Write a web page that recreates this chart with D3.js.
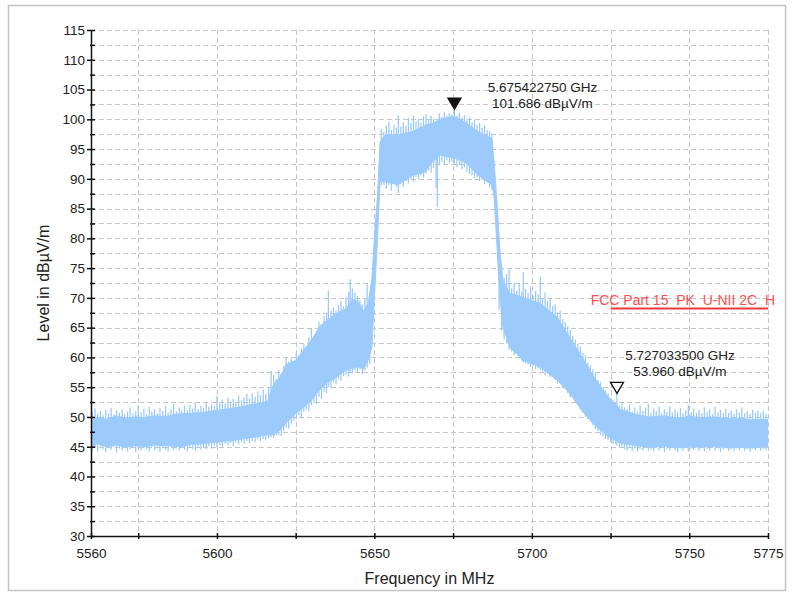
<!DOCTYPE html>
<html><head><meta charset="utf-8">
<script src="https://cdn.jsdelivr.net/npm/d3@7"></script>
<style>
html,body{margin:0;padding:0;background:#fff;}
svg{display:block;font-family:"Liberation Sans",Arial,sans-serif;}
</style></head>
<body><svg id="c" width="793" height="593"></svg>
<script>
// ---- data ----
const yMajorTicks = [30,35,40,45,50,55,60,65,70,75,80,85,90,95,100,105,110,115];
const yMinorTicks = [32.5,37.5,42.5,47.5,52.5,57.5,62.5,67.5,72.5,77.5,82.5,87.5,92.5,97.5,102.5,107.5,112.5];
const xMajorTicks = [5560,5600,5650,5700,5750,5775];
const xMinorTicks = [5575,5625,5675,5725];
const xGrid = [5575,5600,5625,5650,5675,5700,5725,5750,5775];

// dense body of the trace (MHz, upper dBµV/m, lower dBµV/m)
const bandFreq = [5560,5562,5565,5568,5571,5574,5577,5580,5584,5588,5592,5596,5600,5604,5608,5612,5616,5618,5620,5622,5625,5627.5,5630,5632.5,5635,5638,5641,5643,5645,5646.5,5648,5649.2,5650.2,5651,5651.5,5651.8,5653.4,5657.5,5662,5666,5668.3,5671,5672.5,5675.4,5678.8,5683,5687.3,5688,5689,5689.9,5690.8,5693,5697.2,5702.6,5708,5712,5716,5720,5724,5728,5733,5737.5,5742,5746,5750,5754,5758,5762,5766,5770,5775];
const bandHi = [49.5,50.0,49.6,50.2,49.8,50.0,49.9,50.2,50.1,50.5,50.6,50.8,51.1,51.4,51.7,52.2,52.6,55.5,56.7,58.8,59.5,61.2,62.9,65.1,66.3,67.4,68.2,69.8,69.3,67.8,69.0,73.3,81.7,87.3,92.8,96.2,97.4,97.4,97.9,99.0,99.3,100.0,100.2,100.5,99.5,97.9,96.8,93.0,85.6,77.7,73.0,70.8,70.1,69.1,66.8,63.4,60.0,56.5,53.5,51.3,50.4,50.0,50.2,49.8,50.1,49.9,50.0,49.7,49.8,49.5,49.6];
const bandLo = [44.8,45.5,45.0,45.3,44.9,45.2,45.0,45.3,45.2,45.0,45.4,45.5,45.8,46.0,46.3,46.6,47.0,47.0,47.8,49.0,50.6,51.6,52.8,54.5,55.7,56.7,57.9,58.2,58.4,58.0,59.5,61.7,72.0,80.0,86.0,89.5,89.5,89.0,90.6,91.1,92.8,94.0,93.8,93.5,92.8,90.6,89.0,87.0,78.0,70.0,65.1,61.7,59.5,58.4,56.2,54.0,51.0,48.6,46.8,45.6,45.2,44.9,45.1,44.8,45.0,44.9,45.1,44.8,44.9,44.8,45.0];

// noise spikes [MHz, top dBµV/m, bottom dBµV/m]
const spikesLowBand = [[5560.4,50.9,44.4],[5561.3,51.4,44.9],[5562.1,50.5,44.2],[5563.0,51.0,45.0],[5563.8,50.3,44.6],[5564.7,51.2,44.1],[5565.6,50.6,44.8],[5566.4,51.5,44.5],[5567.3,50.4,44.9],[5568.1,51.1,44.0],[5569.0,50.7,44.7],[5569.9,51.3,44.3],[5570.7,50.5,44.8],[5571.6,50.9,44.2],[5572.4,51.6,44.6],[5573.3,50.6,44.9],[5574.2,51.0,44.1],[5575.0,52.0,44.7],[5575.9,50.8,44.3],[5576.8,51.4,44.8],[5577.6,50.5,44.5],[5578.5,51.7,44.2],[5579.3,50.9,44.9],[5580.2,51.3,44.4],[5581.1,50.6,44.7],[5581.9,51.5,44.1],[5582.8,51.0,44.8],[5583.7,51.8,44.5],[5584.5,50.7,44.2],[5585.4,51.2,44.9],[5586.2,52.2,44.4],[5587.1,50.9,44.7],[5588.0,51.6,44.3],[5588.8,51.1,44.8],[5589.7,51.9,44.5],[5590.6,51.2,44.2],[5591.4,52.0,44.9],[5592.3,51.4,44.6],[5593.1,52.4,44.3],[5594.0,51.3,45.0],[5594.9,51.8,44.5],[5595.7,51.5,44.8],[5596.6,52.6,44.6],[5597.4,51.7,45.1],[5598.3,52.1,44.7],[5599.2,51.9,45.2],[5600.0,53.5,44.9],[5600.9,52.2,45.3],[5601.7,52.9,45.0],[5602.6,52.3,45.5],[5603.5,53.2,45.2],[5604.3,52.6,45.6],[5605.2,53.0,45.1],[5606.0,52.5,45.7],[5606.9,53.6,45.4],[5607.8,52.8,45.8],[5608.6,53.3,45.5],[5609.5,53.9,45.9],[5610.3,53.1,45.6],[5611.2,54.0,46.0],[5612.1,53.4,45.8],[5613.0,54.3,46.2],[5613.8,53.6,45.9],[5614.7,54.6,46.3],[5615.5,53.9,46.1],[5616.4,55.0,46.4],[5617.2,57.8,46.6]];
const spikesRise = [[5618.0,57.0,46.5],[5618.8,56.4,46.9],[5619.6,57.9,47.0],[5620.4,57.2,46.8],[5621.2,58.6,47.6],[5622.0,60.0,48.2],[5622.8,59.3,48.0],[5623.6,59.9,48.9],[5624.4,59.2,49.4],[5625.2,60.9,49.6],[5626.0,60.3,50.3],[5626.8,61.5,50.0],[5627.6,62.2,50.9],[5628.4,61.8,51.3],[5629.2,63.4,51.0],[5630.0,64.9,52.0],[5630.8,63.5,52.4],[5631.6,64.2,52.2],[5632.4,66.0,53.4],[5633.2,65.6,53.0],[5634.0,66.9,54.2],[5634.8,67.5,54.0],[5635.4,71.3,55.0],[5636.2,67.8,54.8],[5637.0,68.4,55.8],[5637.8,67.9,55.5],[5638.6,68.8,56.4],[5639.4,69.5,56.0],[5640.2,68.6,56.9],[5641.0,70.2,57.1],[5641.8,71.0,56.8],[5642.3,73.1,57.4],[5643.0,71.6,57.3],[5643.8,70.9,57.8],[5644.6,70.3,57.5],[5645.4,69.6,58.0],[5646.2,68.9,57.2],[5647.0,69.8,57.8],[5647.7,72.5,58.3],[5648.5,70.6,58.9]];
const spikesPlateau = [[5652.2,98.4,88.9],[5653.0,97.9,89.0],[5653.8,98.9,88.3],[5654.6,99.6,88.9],[5655.4,98.2,88.0],[5656.2,99.1,89.2],[5657.0,98.6,88.6],[5657.6,100.7,87.6],[5658.4,98.8,89.1],[5659.2,99.5,88.7],[5660.0,98.9,89.6],[5660.8,100.3,89.2],[5661.6,99.4,90.0],[5662.4,100.6,89.5],[5663.2,99.6,90.3],[5664.0,100.1,90.0],[5664.8,99.4,90.6],[5665.6,100.5,90.2],[5666.4,100.9,90.9],[5667.2,100.0,91.4],[5668.0,100.6,91.0],[5668.8,100.1,91.8],[5669.6,97.0,88.5],[5670.0,96.0,85.3],[5670.6,101.0,92.3],[5671.4,100.4,92.9],[5672.2,101.2,92.5],[5673.0,100.6,93.1],[5673.8,101.0,92.6],[5674.6,100.8,92.9],[5675.42,101.686,92.3],[5676.2,100.6,92.0],[5677.0,101.1,92.4],[5677.8,100.3,91.6],[5678.6,100.7,91.9],[5679.4,99.9,91.2],[5680.2,100.4,90.8],[5681.0,99.5,90.6],[5681.8,99.9,90.1],[5682.6,99.0,90.3],[5683.4,99.4,89.6],[5684.2,98.6,89.8],[5685.0,98.9,89.1],[5685.8,98.2,89.4],[5686.6,98.0,88.6],[5687.3,97.6,88.2]];
const spikesFall = [[5689.6,80.0,68.0],[5690.4,75.5,64.5],[5691.2,73.4,63.0],[5692.0,74.0,62.4],[5692.8,74.7,61.3],[5693.6,71.6,61.0],[5694.4,72.6,60.4],[5695.2,71.2,60.8],[5696.0,72.4,60.0],[5696.8,71.0,59.5],[5697.3,74.3,59.2],[5698.0,71.5,59.0],[5698.8,70.8,58.8],[5699.6,71.9,58.4],[5700.4,70.4,58.6],[5701.2,71.2,58.0],[5702.0,70.6,58.2],[5702.7,73.5,57.8],[5703.4,70.0,57.6],[5704.2,70.9,57.0],[5705.0,69.4,57.3],[5705.8,69.9,56.7],[5706.6,68.6,56.9],[5707.4,68.9,56.2],[5708.2,67.6,55.6],[5709.0,67.9,55.8],[5709.8,66.4,54.8],[5710.6,66.0,54.9],[5711.4,65.2,54.0],[5712.2,64.6,53.3],[5713.0,63.6,53.5],[5713.8,63.0,52.5],[5714.6,62.3,52.0],[5715.4,61.8,51.2],[5716.2,60.8,50.8],[5717.0,60.4,50.0],[5717.8,59.2,49.6],[5718.6,58.6,49.2],[5719.4,58.0,48.6],[5720.2,57.4,48.0],[5721.0,56.2,47.6],[5721.8,55.9,47.0],[5722.6,55.0,46.8],[5723.4,54.5,46.3],[5724.2,54.0,46.1],[5725.0,53.1,45.7],[5725.8,52.8,45.4],[5726.6,52.4,45.5],[5727.03,53.96,45.2],[5727.8,51.9,44.9],[5728.6,52.5,45.0],[5729.4,51.6,44.6]];
const spikesHighBand = [[5730.2,51.3,44.4],[5731.0,52.1,44.8],[5731.9,50.9,44.3],[5732.7,51.6,44.7],[5733.6,50.8,44.2],[5734.4,51.9,44.6],[5735.3,51.0,44.4],[5736.1,51.5,44.9],[5737.0,52.2,44.3],[5737.8,50.7,44.6],[5738.7,51.4,44.2],[5739.5,51.0,44.8],[5740.4,51.7,44.4],[5741.2,50.6,44.7],[5742.1,51.3,44.1],[5742.9,50.9,44.6],[5743.8,51.8,44.3],[5744.6,50.7,44.8],[5745.5,51.2,44.4],[5746.3,50.8,44.1],[5747.2,51.5,44.7],[5748.0,50.6,44.3],[5748.9,51.1,44.8],[5749.7,52.0,44.2],[5750.6,50.8,44.6],[5751.4,51.4,44.4],[5752.3,50.7,44.9],[5753.1,51.2,44.3],[5754.0,50.6,44.7],[5754.8,51.6,44.2],[5755.7,50.9,44.6],[5756.5,51.3,44.4],[5757.4,50.5,44.8],[5758.2,51.7,44.3],[5759.1,50.8,44.7],[5759.9,51.2,44.1],[5760.8,50.6,44.5],[5761.6,51.4,44.8],[5762.5,50.7,44.3],[5763.3,51.1,44.6],[5764.2,50.5,44.2],[5765.0,51.3,44.7],[5765.9,50.8,44.4],[5766.7,51.6,44.8],[5767.6,50.6,44.3],[5768.4,51.0,44.6],[5769.3,50.5,44.2],[5770.1,51.2,44.7],[5771.0,50.7,44.4],[5771.8,51.1,44.8],[5772.7,50.6,44.3],[5773.5,51.0,44.6],[5774.4,50.5,44.4]];

// markers and limit
const markerFreqMHz = [5675.42275, 5727.0335];
const markerLevel = [101.686, 53.960];
const markerLine1 = ["5.675422750 GHz", "5.727033500 GHz"];
const markerLine2 = ["101.686 dBµV/m", "53.960 dBµV/m"];
const markerFilled = [true, false];
const limitFreq = [5725, 5775];
const limitLevel = [68.2, 68.2];
const limitLabel = "FCC Part 15  PK  U-NII 2C  H";

// ---- drawing ----
const svg = d3.select("#c");
const L = 91, R = 768, T = 30, B = 536;
const x = d3.scaleLinear().domain([5560,5775]).range([L,R]);
const y = d3.scaleLinear().domain([30,115]).range([B,T]);
const FONT = 13.5;

svg.append("rect").attr("x",8.5).attr("y",5.5).attr("width",777).attr("height",585)
  .attr("fill","#fff").attr("stroke","#c4c4c4").attr("stroke-width",1.5);

// grid
const grid = svg.append("g").attr("stroke","#c6c6c6").attr("stroke-width",1).attr("stroke-dasharray","5,3");
grid.selectAll(".gx").data(xGrid).join("line")
  .attr("x1",d=>Math.round(x(d))+0.5).attr("x2",d=>Math.round(x(d))+0.5).attr("y1",T).attr("y2",B);
grid.selectAll(".gy").data(yMinorTicks.concat(yMajorTicks.slice(1))).join("line")
  .attr("y1",d=>Math.round(y(d))+0.5).attr("y2",d=>Math.round(y(d))+0.5).attr("x1",L).attr("x2",R);

// trace
svg.append("clipPath").attr("id","pc").append("rect").attr("x",L).attr("y",T).attr("width",R-L).attr("height",B-T);
const tr = svg.append("g").attr("clip-path","url(#pc)");
const TRACE = "#9ccbfb";
const bandData = bandFreq.map((f,i)=>({f, hi:bandHi[i], lo:bandLo[i]}));
tr.append("path").datum(bandData)
  .attr("d", d3.area().x(d=>x(d.f)).y0(d=>y(d.lo)).y1(d=>y(d.hi)))
  .attr("fill",TRACE).attr("stroke",TRACE).attr("stroke-width",1);
const spikes = spikesLowBand.concat(spikesRise, spikesPlateau, spikesFall, spikesHighBand);
tr.selectAll(".sp").data(spikes).join("line")
  .attr("x1",d=>x(d[0])).attr("x2",d=>x(d[0]))
  .attr("y1",d=>y(d[1])).attr("y2",d=>y(d[2]))
  .attr("stroke",TRACE).attr("stroke-width",1.3);

// limit line
svg.append("line").attr("x1",x(limitFreq[0])).attr("x2",x(limitFreq[1]))
  .attr("y1",y(limitLevel[0])).attr("y2",y(limitLevel[1]))
  .attr("stroke","#f0393c").attr("stroke-width",2);
svg.append("text").attr("x",775).attr("y",y(limitLevel[0])-7)
  .attr("text-anchor","end").attr("dominant-baseline","middle")
  .attr("fill","#ff4f4f").attr("font-size",14).style("white-space","pre")
  .text(limitLabel);

// axes
const yAxis = svg.append("g").attr("transform",`translate(${L},0)`)
  .call(d3.axisLeft(y).tickValues(yMajorTicks).tickSize(4).tickPadding(2).tickFormat(d3.format("d")));
yAxis.selectAll(".tick line").attr("x1",4).attr("stroke","#111").attr("stroke-width",1.5);
const yMinor = svg.append("g").attr("transform",`translate(${L},0)`)
  .call(d3.axisLeft(y).tickValues(yMinorTicks).tickSize(1).tickFormat(""));
yMinor.selectAll(".tick line").attr("x1",4).attr("stroke","#111").attr("stroke-width",1.5);
yMinor.select(".domain").remove();

const xAxis = svg.append("g").attr("transform",`translate(0,${B})`)
  .call(d3.axisBottom(x).tickValues(xMajorTicks).tickSize(3).tickPadding(9).tickFormat(d3.format("d")));
xAxis.selectAll(".tick line").attr("y1",-3).attr("stroke","#111").attr("stroke-width",1.5);
const xMinor = svg.append("g").attr("transform",`translate(0,${B})`)
  .call(d3.axisBottom(x).tickValues(xMinorTicks).tickSize(3).tickFormat(""));
xMinor.selectAll(".tick line").attr("y1",-3).attr("stroke","#111").attr("stroke-width",1.5);
xMinor.select(".domain").remove();

[yAxis,xAxis].forEach(a=>{
  a.select(".domain").attr("stroke","#111").attr("stroke-width",1.5);
  a.selectAll("text").attr("font-size",FONT).attr("fill","#222")
   .attr("font-family","'Liberation Sans',Arial,sans-serif");
});
yAxis.select(".domain").attr("d",`M0.5,${B}V${T}`);
xAxis.select(".domain").attr("d",`M${L},0.5H${R}`);

// axis titles
svg.append("text").attr("x",(L+R)/2).attr("y",580).attr("text-anchor","middle")
  .attr("dominant-baseline","middle").attr("font-size",16).attr("fill","#222").text("Frequency in MHz");
svg.append("text").attr("transform","translate(45,283) rotate(-90)").attr("text-anchor","middle")
  .attr("dominant-baseline","middle").attr("font-size",16).attr("fill","#222").text("Level in dBµV/m");

// markers
const labelDx = [88, 63];
const labelDy = [-5, -21];
markerFreqMHz.forEach((f,i)=>{
  const px = x(f), py = y(markerLevel[i]);
  svg.append("path")
    .attr("d",`M${px},${py}L${px-6.5},${py-11}L${px+6.5},${py-11}Z`)
    .attr("fill", markerFilled[i] ? "#111" : "#fff")
    .attr("stroke","#111").attr("stroke-width",1.3);
  const tx = px + labelDx[i];
  const ty = py + labelDy[i];
  svg.append("text").attr("x",tx).attr("y",ty-15.5).attr("text-anchor","middle")
    .attr("dominant-baseline","middle").attr("font-size",FONT).attr("fill","#222").text(markerLine1[i]);
  svg.append("text").attr("x",tx).attr("y",ty).attr("text-anchor","middle")
    .attr("dominant-baseline","middle").attr("font-size",FONT).attr("fill","#222").text(markerLine2[i]);
});
</script></body></html>
